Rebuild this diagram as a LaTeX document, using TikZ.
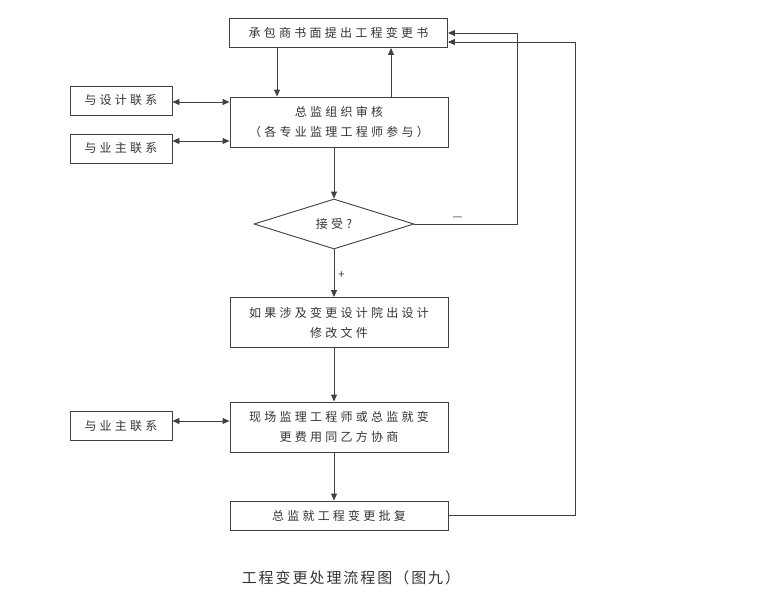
\documentclass[tikz,border=0pt]{standalone}
\usepackage{fontspec}
\setmainfont{Noto Sans CJK SC}
\newfontfamily\boxfont[LetterSpace=27]{Noto Sans CJK SC}
\newfontfamily\capfont[LetterSpace=13]{Noto Sans CJK SC}
\usetikzlibrary{shapes.geometric,arrows.meta}

\begin{document}
\begin{tikzpicture}[
    x=1pt,
    y=-1pt,
    every node/.style={
      text=black!80,
      inner sep=0pt,
      align=center
    },
    box/.style={
      draw=black!75,
      line width=0.9pt,
      minimum width=218pt,
      minimum height=29pt,
      font=\boxfont\fontsize{12}{20}\selectfont
    },
    tall/.style={box, minimum height=50pt},
    sidebox/.style={box, minimum width=102pt},
    link/.style={
      draw=black!75,
      line width=0.9pt,
      -{Triangle[length=7pt,width=6pt]}
    },
    both/.style={link, {Triangle[length=7pt,width=6pt]}-{Triangle[length=7pt,width=6pt]}}
  ]
    \useasboundingbox (0,0) rectangle (760,610);

    \node[box] (submit) at (338.5, 33) {承包商书面提出工程变更书};
    \node[tall] (review) at (339, 122) {总监组织审核\\（各专业监理工程师参与）};
    \node[draw=black!75, line width=0.9pt, diamond, aspect=3.2,
      minimum width=160pt, minimum height=50pt,
      font=\boxfont\fontsize{12}{20}\selectfont] (accept) at (334, 224) {接受?};
    \node[tall] (design) at (339, 322.5) {如果涉及变更设计院出设计\\修改文件};
    \node[tall] (consult) at (339, 427) {现场监理工程师或总监就变\\更费用同乙方协商};
    \node[box] (approve) at (339, 515.5) {总监就工程变更批复};

    \node[sidebox] (designlink) at (121, 100.5) {与设计联系};
    \node[sidebox] (ownerlink1) at (121, 148.5) {与业主联系};
    \node[sidebox] (ownerlink2) at (121, 426) {与业主联系};

    \node[font=\capfont\fontsize{15}{18}\selectfont] (caption) at (351, 578) {工程变更处理流程图（图九）};

    \coordinate (loopA) at (517, 33);
    \coordinate (loopB) at (575, 42);
    \coordinate (side1) at ([yshift=-1.5pt]designlink.east);
    \coordinate (side2) at ([yshift=7.5pt]ownerlink1.east);
    \coordinate (side3) at ([yshift=5pt]ownerlink2.east);

    \draw[link] ([xshift=-61.5pt]submit.south) to ([xshift=-62pt]review.north);
    \draw[link] ([xshift=52pt]review.north) to ([xshift=52.5pt]submit.south);
    \draw[both] (side1) to (side1 -| review.west);
    \draw[both] (side2) to (side2 -| review.west);
    \draw[both] (side3) to (side3 -| consult.west);
    \draw[link] (review.south -| accept.north) to (accept.north);
    \draw[link] (accept.south) to node[pos=0.54, right=4pt, font=\fontsize{11}{12}\selectfont] {+} (accept.south |- design.north);
    \draw[link] (accept.east) to node[pos=0.42, above=3pt, font=\fontsize{11}{12}\selectfont] {—} (accept.east -| loopA)
      -- (loopA) -- (submit.east);
    \draw[link] (design.south -| accept.south) to (consult.north -| accept.south);
    \draw[link] (consult.south -| accept.south) to (approve.north -| accept.south);
    \draw[link] (approve.east) -| (loopB) -- (loopB -| submit.east);
  \end{tikzpicture}
\end{document}
